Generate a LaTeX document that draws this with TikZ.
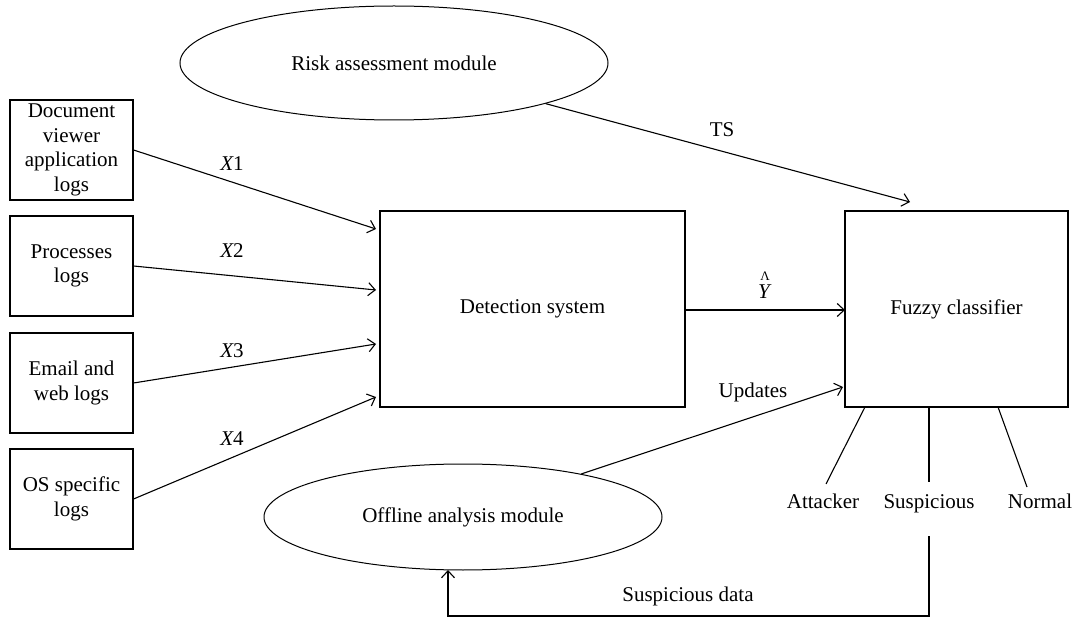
\documentclass[tikz,border=0pt]{standalone}
\usepackage{fontspec}
\setmainfont{Liberation Serif}
\usetikzlibrary{arrows.meta,shapes.geometric,calc}
\begin{document}
\begin{tikzpicture}[x=1pt,y=-1pt,
  every node/.style={font=\fontsize{21}{24.5}\selectfont},
  srcbox/.style={draw,line width=1.1pt,minimum width=123pt,minimum height=100pt,inner sep=0pt,align=center},
  bigbox/.style={draw,line width=1.1pt,inner sep=0pt,align=center},
  oval/.style={draw,ellipse,line width=1pt,inner sep=0pt},
  conn/.style={line width=1.1pt},
  arr/.style={conn,-{Straight Barb[length=7pt,width=13pt,line width=1.1pt]}},
  lbl/.style={inner sep=0pt},
  blbl/.style={inner sep=0pt,anchor=base}
]
\useasboundingbox (0,0) rectangle (1077,620);

% source boxes
\node[srcbox] (b1) at (71.5,150) {Document\\viewer\\application\\logs};
\node[srcbox] (b2) at (71.5,266) {Processes\\logs};
\node[srcbox] (b3) at (71.5,383) {Email and\\web logs};
\node[srcbox] (b4) at (71.5,499) {OS specific\\logs};

% main boxes
\node[bigbox,minimum width=305pt,minimum height=196pt] (det) at (532.5,309) {Detection system};
\node[bigbox,minimum width=223pt,minimum height=196pt] (fuz) at (956.5,309) {Fuzzy classifier};

% ellipses
\node[oval,minimum width=428pt,minimum height=114pt] (risk) at (394,63) {Risk assessment module};
\node[oval,minimum width=398pt,minimum height=106pt] (off) at (463,517) {Offline analysis module};

% arrow end coordinates
\coordinate (d1) at (376,229);
\coordinate (d2) at (376,290);
\coordinate (d3) at (376,344);
\coordinate (d4) at (376,397);
\coordinate (ts) at (910,202);
\coordinate (fy) at (845,310);
\coordinate (fu) at (843,387);

% inputs
\draw[arr] (b1.east) -- (d1);
\draw[arr] (b2.east) -- (d2);
\draw[arr] (b3.east) -- (d3);
\draw[arr] (b4.east) -- (d4);
\node[blbl] (x1) at (232,171) {\itshape X\upshape 1};
\node[blbl] (x2) at (232,258) {\itshape X\upshape 2};
\node[blbl] (x3) at (232,358) {\itshape X\upshape 3};
\node[blbl] (x4) at (232,445) {\itshape X\upshape 4};

% TS
\draw[arr] (risk.-15.5) -- (ts);
\node[blbl] (tsl) at (722,137) {TS};

% Y hat
\draw[arr] (det.east |- fy) -- (fy);
\node[blbl] (yl) at (764,299) {\itshape Y};
\node[lbl,font=\fontsize{13}{13}\selectfont] (yh) at (765,276) {Λ};

% Updates
\draw[arr] (off.20.2) -- (fu);
\node[blbl] (upl) at (753,398) {Updates};

% outputs of fuzzy classifier
\node[blbl] (att) at (823,508) {Attacker};
\node[blbl] (sus) at (929,508) {Suspicious};
\node[blbl] (nor) at (1040,508) {Normal};
\coordinate (fa) at (865,407);
\coordinate (fs) at (929,407);
\coordinate (fn) at (998,407);
\coordinate (ea) at (826,484);
\coordinate (es) at (929,482);
\coordinate (en) at (1027,487);
\draw[conn] (fa) -- (ea);
\draw[conn] (fs) -- (es);
\draw[conn] (fn) -- (en);

% suspicious data loop
\coordinate (s0) at (929,536);
\coordinate (s1) at (929,616);
\coordinate (o1) at (448,570);
\draw[arr] (s0) -- (s1) -| (o1);
\node[blbl] (sdl) at (688,601) {Suspicious data};
\end{tikzpicture}
\end{document}
